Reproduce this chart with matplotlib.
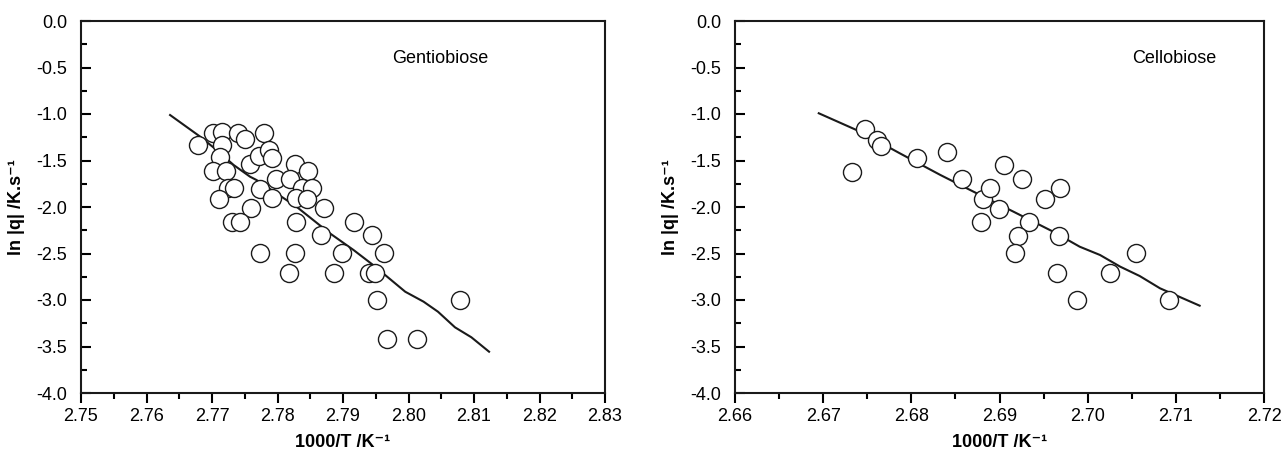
import matplotlib
matplotlib.use("Agg")
import matplotlib.pyplot as plt
from matplotlib.ticker import MultipleLocator, FormatStrFormatter

plt.rcParams['font.family'] = ['Liberation Sans', 'DejaVu Sans']
plt.rcParams['axes.unicode_minus'] = False

# Gentiobiose data
gen_x = [2.7679, 2.7702, 2.7715, 2.7740, 2.7750, 2.7779, 2.7715, 2.7712, 2.7701, 2.7721,
         2.7758, 2.7771, 2.7787, 2.7791, 2.7798, 2.7773, 2.7791, 2.7827, 2.7847, 2.7819,
         2.7837, 2.7852, 2.7829, 2.7845, 2.7725, 2.7734, 2.7711, 2.7760, 2.7730, 2.7743,
         2.7828, 2.7871, 2.7917, 2.7867, 2.7944, 2.7773, 2.7827, 2.7898, 2.7963, 2.7818,
         2.7886, 2.7939, 2.7949, 2.7952, 2.8079, 2.7967, 2.8013]
gen_y = [-1.333, -1.201, -1.190, -1.201, -1.272, -1.201, -1.333, -1.459, -1.613, -1.613,
         -1.538, -1.452, -1.387, -1.470, -1.702, -1.806, -1.906, -1.538, -1.613, -1.702,
         -1.799, -1.799, -1.906, -1.917, -1.792, -1.799, -1.911, -2.014, -2.158, -2.158,
         -2.158, -2.014, -2.158, -2.304, -2.304, -2.491, -2.491, -2.491, -2.491, -2.713,
         -2.713, -2.713, -2.713, -3.000, -3.000, -3.419, -3.419]
gen_fit_x = [2.7636, 2.7682, 2.7707, 2.7733, 2.7758, 2.7768, 2.7829, 2.7880, 2.7916, 2.7946,
             2.7995, 2.8023, 2.8045, 2.8071, 2.8096, 2.8123]
gen_fit_y = [-1.011, -1.244, -1.387, -1.548, -1.674, -1.710, -1.997, -2.283, -2.462, -2.624,
             -2.911, -3.018, -3.126, -3.294, -3.401, -3.556]

# Cellobiose data
cel_x = [2.6733, 2.6748, 2.6761, 2.6766, 2.6806, 2.6840, 2.6858, 2.6881, 2.6889, 2.6879,
         2.6899, 2.6905, 2.6926, 2.6969, 2.6952, 2.6933, 2.6921, 2.6967, 2.6918, 2.7055,
         2.6965, 2.7025, 2.6988, 2.7092]
cel_y = [-1.620, -1.161, -1.280, -1.344, -1.471, -1.407, -1.702, -1.917, -1.799, -2.161,
         -2.025, -1.548, -1.702, -1.799, -1.917, -2.158, -2.312, -2.312, -2.491, -2.491,
         -2.713, -2.713, -3.000, -3.000]
cel_fit_x = [2.6695, 2.6742, 2.6787, 2.6833, 2.6878, 2.6916, 2.6961, 2.6991, 2.7014, 2.7037,
             2.7059, 2.7082, 2.7127]
cel_fit_y = [-0.992, -1.190, -1.423, -1.656, -1.871, -2.051, -2.266, -2.427, -2.516, -2.642,
             -2.742, -2.874, -3.061]

fig = plt.figure(figsize=(12.85, 4.55), dpi=100)
W, H = 1285, 455
ax1 = fig.add_axes([81 / W, (455 - 393) / H, 524 / W, 372 / H])
ax2 = fig.add_axes([735 / W, (455 - 393) / H, 529 / W, 372 / H])

panels = [
    (ax1, gen_x, gen_y, gen_fit_x, gen_fit_y, (2.75, 2.83), 'Gentiobiose', 0.685),
    (ax2, cel_x, cel_y, cel_fit_x, cel_fit_y, (2.66, 2.72), 'Cellobiose', 0.83),
]

for ax, px, py, fx, fy, xlim, name, tx in panels:
    ax.plot(fx, fy, color='#1a1a1a', lw=1.5, zorder=2)
    ax.plot(px, py, linestyle='none', marker='o', markersize=13,
            markerfacecolor='white', markeredgecolor='#1a1a1a', markeredgewidth=1.0, zorder=3)
    ax.set_xlim(*xlim)
    ax.set_ylim(-4.0, 0.0)
    ax.xaxis.set_major_locator(MultipleLocator(0.01))
    ax.xaxis.set_minor_locator(MultipleLocator(0.005))
    ax.xaxis.set_major_formatter(FormatStrFormatter('%.2f'))
    ax.yaxis.set_major_locator(MultipleLocator(0.5))
    ax.yaxis.set_minor_locator(MultipleLocator(0.25))
    ax.yaxis.set_major_formatter(FormatStrFormatter('%.1f'))
    ax.tick_params(axis='x', which='major', direction='out', length=7, width=1.5,
                   labelsize=13, pad=4, top=False)
    ax.tick_params(axis='x', which='minor', direction='out', length=4, width=1.5, top=False)
    ax.tick_params(axis='y', which='major', direction='in', length=7, width=1.5,
                   labelsize=13, pad=10, right=False)
    ax.tick_params(axis='y', which='minor', direction='in', length=4, width=1.5, right=False)
    for s in ax.spines.values():
        s.set_linewidth(1.5)
        s.set_color('#1a1a1a')
    ax.set_xlabel('1000/T /K\u207b\u00b9', fontsize=13, fontweight='bold', labelpad=6)
    ax.set_ylabel('ln |q| /K.s\u207b\u00b9', fontsize=13, fontweight='bold', labelpad=8)
    ax.text(tx, 0.9, name, transform=ax.transAxes, fontsize=13, ha='center', va='center')

fig.savefig('out.png', dpi=100)
